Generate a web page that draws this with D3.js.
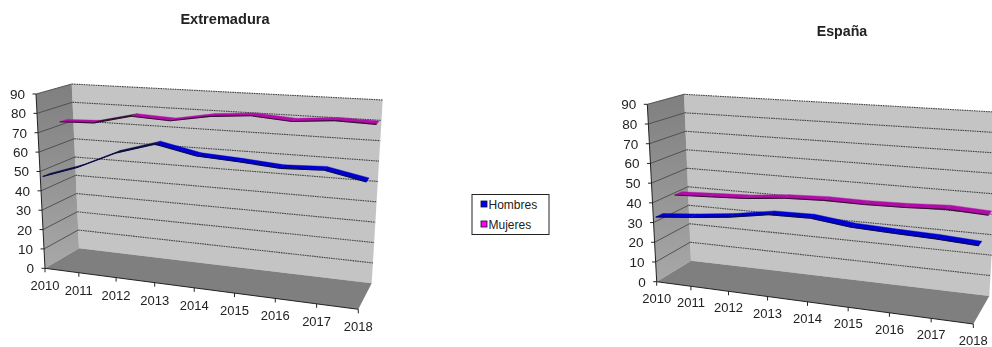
<!DOCTYPE html>
<html><head><meta charset="utf-8">
<script src="https://cdn.jsdelivr.net/npm/d3@7"></script>
<style>html,body{margin:0;padding:0;background:#fff;overflow:hidden}svg{display:block}text{font-family:"Liberation Sans",Arial,sans-serif;fill:#222}</style>
</head><body><svg id="c" width="992" height="347"></svg>
<script>
const years = ["2010","2011","2012","2013","2014","2015","2016","2017","2018"];
const yTicks = [0,10,20,30,40,50,60,70,80,90];
const seriesNames = ["Hombres","Mujeres"];
const seriesColors = ["#0000d0","#b010a8"];
const darkColors = ["#0a0a40","#301030"];
const extremaduraHombres = [46.9,53.2,62.2,68.4,64.2,63.1,61.6,62.5,58.7];
const extremaduraMujeres = [71.8,72.5,77.3,76.3,79.9,81.5,80,81.7,81.2];
const espanaHombres = [32.2,33.9,36.1,39.4,39.8,37.5,36.7,36.2,35.1];
const espanaMujeres = [38.9,39.7,40.6,42.6,43.4,43.2,43.6,44.6,43.6];

const svg = d3.select("#c");
const defs = svg.append("defs");
const blur = defs.append("filter").attr("id","soft").attr("x","-5%").attr("y","-5%").attr("width","110%").attr("height","110%");
blur.append("feGaussianBlur").attr("stdDeviation",0.55);
const textBlur = defs.append("filter").attr("id","softText").attr("x","-5%").attr("y","-20%").attr("width","110%").attr("height","140%");
textBlur.append("feGaussianBlur").attr("stdDeviation",0.3);
const sideGrad = defs.append("linearGradient").attr("id","side").attr("x1",0).attr("y1",0).attr("x2",0).attr("y2",1);
sideGrad.append("stop").attr("offset","0").attr("stop-color","#7f7f7f");
sideGrad.append("stop").attr("offset","1").attr("stop-color","#a8a8a8");

function chart(cfg){
  const {fb,ft,bb,bt,fr,tr,bbr,btr} = cfg;
  const lerp=(a,b,s)=>a+(b-a)*s;
  const t = d3.scalePow().exponent(1.07).domain([0,years.length-1]).range([0,1]);
  const v = d3.scaleLinear().domain([0,90]).range([0,1]);
  const proj=(i,val,d)=>{
    const tt=t(i), vv=v(val);
    const pt=(a,b,c,e)=>[0,1].map(k=>lerp(lerp(a[k],b[k],tt),lerp(c[k],e[k],tt),vv));
    const f=pt(fb,fr,ft,tr), b=pt(bb,bbr,bt,btr);
    return [lerp(f[0],b[0],d),lerp(f[1],b[1],d)];
  };
  const last=years.length-1;
  const poly=(pts)=>pts.map(p=>p.join(",")).join(" ");
  const g=svg.append("g").attr("filter","url(#soft)");
  g.append("polygon").attr("points",poly([proj(0,0,1),proj(last,0,1),proj(last,90,1),proj(0,90,1)])).attr("fill","#c4c4c4");
  g.append("polygon").attr("points",poly([proj(0,0,0),proj(0,0,1),proj(0,90,1),proj(0,90,0)])).attr("fill","url(#side)");
  g.append("polygon").attr("points",poly([proj(0,0,0),proj(last,0,0),proj(last,0,1),proj(0,0,1)])).attr("fill","#7f7f7f");
  yTicks.forEach(y=>{
    if(y===0) return;
    const a=proj(0,y,1),b=proj(last,y,1),c=proj(0,y,0);
    g.append("line").attr("x1",a[0]).attr("y1",a[1]).attr("x2",b[0]).attr("y2",b[1])
      .attr("stroke","#444").attr("stroke-width",1.1).attr("stroke-dasharray","1.6 0.8");
    g.append("line").attr("x1",a[0]).attr("y1",a[1]).attr("x2",c[0]).attr("y2",c[1])
      .attr("stroke","#4a4a4a").attr("stroke-width",0.9);
  });
  const axisG=g.append("g").attr("stroke","#222").attr("stroke-width",1);
  const l0=proj(0,0,0), l1=proj(0,90,0), r0=proj(last,0,0);
  axisG.append("line").attr("x1",l0[0]).attr("y1",l0[1]).attr("x2",l1[0]).attr("y2",l1[1]);
  axisG.append("line").attr("x1",l0[0]).attr("y1",l0[1]).attr("x2",r0[0]).attr("y2",r0[1]);
  yTicks.forEach(y=>{
    const p=proj(0,y,0);
    axisG.append("line").attr("x1",p[0]-3.5).attr("y1",p[1]).attr("x2",p[0]).attr("y2",p[1]);
  });
  years.forEach((_,i)=>{
    const p=proj(i,0,0);
    axisG.append("line").attr("x1",p[0]).attr("y1",p[1]).attr("x2",p[0]).attr("y2",p[1]+4);
  });
  [[1,cfg.mujeres,0.72],[0,cfg.hombres,0.17]].forEach(([si,vals,d])=>{
    const hw=0.1;
    vals.forEach((val,i)=>{
      if(i===last) return;
      const next=vals[i+1];
      const a=proj(i,val,d-hw),b=proj(i+1,next,d-hw),c=proj(i+1,next,d+hw),e=proj(i,val,d+hw);
      const rising=(b[1]-a[1])/(b[0]-a[0])<-0.12;
      g.append("polygon").attr("points",poly([a,b,c,e]))
        .attr("fill",rising?darkColors[si]:seriesColors[si])
        .attr("stroke",rising?darkColors[si]:seriesColors[si]).attr("stroke-width",0.4);
      g.append("line").attr("x1",a[0]).attr("y1",a[1]).attr("x2",b[0]).attr("y2",b[1])
        .attr("stroke",darkColors[si]).attr("stroke-width",1.1);
    });
  });
  const tg=svg.append("g").attr("filter","url(#softText)");
  yTicks.forEach(y=>{
    const p=proj(0,y,0);
    tg.append("text").attr("x",p[0]-11).attr("y",p[1]+5).attr("text-anchor","end").attr("font-size",13.5).text(y);
  });
  years.forEach((yr,i)=>{
    const p=proj(i,0,0);
    tg.append("text").attr("x",p[0]).attr("y",p[1]+cfg.labelDy).attr("text-anchor","middle").attr("font-size",13).text(yr);
  });
  tg.append("text").attr("x",cfg.titleX).attr("y",cfg.titleY).attr("text-anchor","middle")
    .attr("font-size",cfg.titleSize).attr("font-weight","bold").text(cfg.title);
}

chart({title:"Extremadura",titleX:225,titleY:24.3,titleSize:14.6,labelDy:22,hombres:extremaduraHombres,mujeres:extremaduraMujeres,
  fb:[45,268.3],ft:[36,94],fr:[358.3,309.3],tr:[369.3,116],
  bb:[79,248.3],bt:[71.7,84],bbr:[371.7,283.3],btr:[382.7,100]});
chart({title:"España",titleX:842,titleY:35.7,titleSize:14.2,labelDy:21,hombres:espanaHombres,mujeres:espanaMujeres,
  fb:[656.7,281.7],ft:[647.3,104.3],fr:[973.3,324],tr:[984.3,127.7],
  bb:[691,260.7],bt:[684,94.3],bbr:[989.3,296],btr:[1000,112.3]});

const lg=svg.append("g");
lg.append("rect").attr("x",472).attr("y",194.5).attr("width",77).attr("height",40).attr("fill","#fff").attr("stroke","#222").attr("stroke-width",1);
const swatch=["#0000ff","#ff00ff"];
seriesNames.forEach((n,i)=>{
  const y=201+i*20;
  lg.append("rect").attr("x",481).attr("y",y).attr("width",6).attr("height",6).attr("fill",swatch[i]).attr("stroke","#111").attr("stroke-width",0.8);
  lg.append("text").attr("x",488.5).attr("y",y+7.5).attr("font-size",12).text(n);
});
</script></body></html>
